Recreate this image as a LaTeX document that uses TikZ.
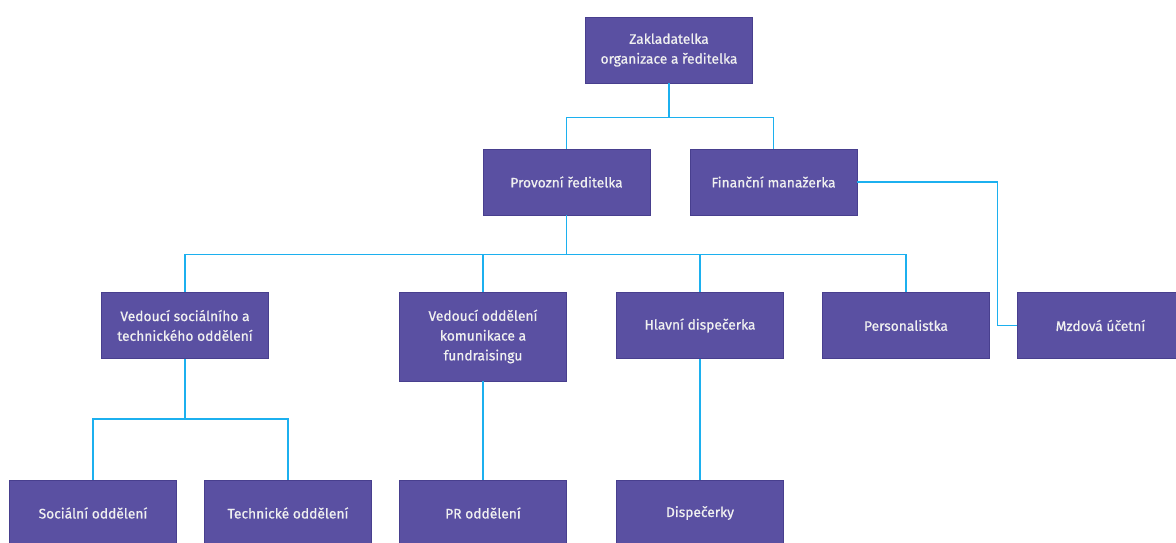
\documentclass[tikz,border=0pt]{standalone}
\usepackage{fontspec}
\setmainfont{Fira Sans}
\newfontfamily\boxfont{Fira Sans}[FakeBold=0.7]
\usepackage{xcolor}
\usepackage{tikz}
\usetikzlibrary{positioning, calc}
\definecolor{boxfill}{HTML}{5A50A2}
\definecolor{boxline}{HTML}{483F8E}
\definecolor{linkblue}{HTML}{1CB0EF}

\begin{document}
\begin{tikzpicture}[x=1pt, y=-1pt,
    role/.style={draw=boxline, line width=0.8pt, fill=boxfill, text=white!94!black,
      minimum width=167pt, minimum height=66pt, align=center, inner sep=2pt,
      font=\boxfont\fontsize{13.8}{19.8}\selectfont},
    link/.style={draw=linkblue, line width=1.4pt}]
  \useasboundingbox (0,0) rectangle (1176,542);
  \clip (0,0) rectangle (1176,542);
  % management
  \node[role] (zakl) at (669,50) {Zakladatelka\\organizace a ředitelka};
  \node[role] (prov) at (566.5,182) {Provozní ředitelka};
  \node[role] (fin) at (773.5,182) {Finanční manažerka};
  % heads of departments
  \node[role] (vsoc) at (185,325.5) {Vedoucí sociálního a\\technického oddělení};
  \node[role, minimum height=89pt] (vkom) at (483,336.5)
    {Vedoucí oddělení\\komunikace a\\fundraisingu};
  \node[role] (hlav) at (700,325.5) {Hlavní dispečerka};
  \node[role] (pers) at (906,325.5) {Personalistka};
  \node[role] (mzd) at (1100.5,325.5) {Mzdová účetní};
  % departments
  \node[role] (soc) at (93,513) {Sociální oddělení};
  \node[role] (tech) at (288,513) {Technické oddělení};
  \node[role] (pr) at (483,513) {PR oddělení};
  \node[role] (disp) at (700,513) {Dispečerky};
  % connectors
  \foreach \n in {prov,fin}{ \draw[link] (zakl.south) -- ++(0,34) -| (\n.north); }
  \foreach \n in {vsoc,vkom,hlav,pers}{ \draw[link] (prov.south) -- ++(0,39) -| (\n.north); }
  \draw[link] (fin.east) -- ++(140,0) |- (mzd.west);
  \foreach \n in {soc,tech}{ \draw[link] (vsoc.south) -- ++(0,60) -| (\n.north); }
  \draw[link] (vkom.south) -- (pr.north);
  \draw[link] (hlav.south) -- (disp.north);
\end{tikzpicture}
\end{document}
